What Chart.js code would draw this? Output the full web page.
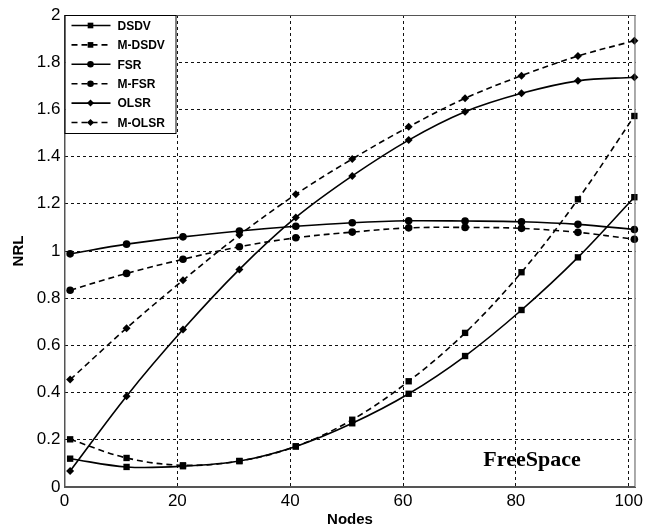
<!DOCTYPE html>
<html>
<head>
<meta charset="utf-8">
<script src="https://cdn.jsdelivr.net/npm/chart.js@4"></script>
<style>
  html, body { margin: 0; padding: 0; background: #fff; }
  #wrap { width: 647px; height: 529px; }
</style>
</head>
<body>
<div id="wrap"><canvas id="nrlChart" width="647" height="529"></canvas></div>
<script>
// values
const nodes = [1, 11, 21, 31, 41, 51, 61, 71, 81, 91, 101];
const dsdv  = [0.12, 0.085, 0.088, 0.11, 0.172, 0.27, 0.395, 0.555, 0.75, 0.973, 1.228];
const mDsdv = [0.202, 0.123, 0.092, 0.11, 0.172, 0.285, 0.448, 0.653, 0.91, 1.219, 1.572];
const fsr   = [0.988, 1.029, 1.06, 1.085, 1.105, 1.12, 1.128, 1.127, 1.124, 1.113, 1.091];
const mFsr  = [0.834, 0.905, 0.965, 1.018, 1.056, 1.08, 1.098, 1.1, 1.096, 1.079, 1.05];
const olsr  = [0.068, 0.385, 0.667, 0.922, 1.142, 1.318, 1.47, 1.59, 1.668, 1.721, 1.736];
const mOlsr = [0.455, 0.673, 0.876, 1.068, 1.24, 1.39, 1.526, 1.647, 1.743, 1.826, 1.891];
const xTicks = [0, 20, 40, 60, 80, 100];
const yTicks = [0, 0.2, 0.4, 0.6, 0.8, 1, 1.2, 1.4, 1.6, 1.8, 2];

const pts = arr => arr.map((v, i) => ({ x: nodes[i], y: v }));

function series(label, arr, marker, dashed, size) {
  return {
    label: label,
    data: pts(arr),
    borderColor: '#000',
    backgroundColor: '#000',
    borderWidth: 1.6,
    borderDash: dashed ? [6, 4] : [],
    pointStyle: marker,
    pointRadius: size,
    pointBorderWidth: 0,
    tension: 0.35,
    clip: false
  };
}

// legend box inside the plot + outer frame + FreeSpace label
const extras = {
  id: 'extras',
  afterDraw(chart) {
    const ctx = chart.ctx;
    const a = chart.chartArea;
    ctx.save();
    ctx.strokeStyle = '#555';
    ctx.lineWidth = 1;
    ctx.setLineDash([]);
    ctx.strokeRect(a.left + 0.5, a.top + 0.5, a.right - a.left - 1, a.bottom - a.top - 1);

    // legend
    const lx = a.left, ly = a.top, lw = 111, lh = 118;
    ctx.fillStyle = '#fff';
    ctx.fillRect(lx + 1, ly + 1, lw, lh);
    ctx.strokeStyle = '#000';
    ctx.strokeRect(lx + 0.5, ly + 0.5, lw, lh);
    ctx.font = 'bold 12px "Liberation Sans", Arial, sans-serif';
    ctx.textBaseline = 'middle';
    chart.data.datasets.forEach((ds, i) => {
      const y = ly + 10.5 + i * 19.4;
      ctx.strokeStyle = '#000';
      ctx.fillStyle = '#000';
      ctx.lineWidth = 1.6;
      ctx.setLineDash(ds.borderDash);
      ctx.beginPath();
      ctx.moveTo(lx + 7, y);
      ctx.lineTo(lx + 46, y);
      ctx.stroke();
      ctx.setLineDash([]);
      Chart.helpers.drawPoint(ctx, { pointStyle: ds.pointStyle, radius: ds.pointRadius - 0.5, borderWidth: 0 }, lx + 26, y);
      ctx.fillText(ds.label, lx + 53, y + 1);
    });

    ctx.font = 'bold 22px "Liberation Serif", "Times New Roman", serif';
    ctx.textAlign = 'center';
    ctx.textBaseline = 'middle';
    ctx.fillStyle = '#000';
    ctx.fillText('FreeSpace', 532, 460);
    ctx.restore();
  }
};

const gridOpts = { color: '#111', lineWidth: 1, tickLength: 0 };
const borderOpts = { display: true, color: '#555', dash: [3, 3] };

new Chart(document.getElementById('nrlChart'), {
  type: 'line',
  data: {
    datasets: [
      series('DSDV', dsdv, 'rect', false, 4.5),
      series('M-DSDV', mDsdv, 'rect', true, 4.5),
      series('FSR', fsr, 'circle', false, 3.8),
      series('M-FSR', mFsr, 'circle', true, 3.8),
      series('OLSR', olsr, 'rectRot', false, 4),
      series('M-OLSR', mOlsr, 'rectRot', true, 4)
    ]
  },
  options: {
    responsive: false,
    animation: false,
    layout: { padding: { top: 15, right: 9, left: 0, bottom: 0 } },
    plugins: { legend: { display: false }, tooltip: { enabled: false } },
    scales: {
      x: {
        type: 'linear',
        min: 0,
        max: 101.2,
        afterBuildTicks: s => { s.ticks = xTicks.map(v => ({ value: v })); },
        afterFit: s => { s.height = 42; },
        grid: gridOpts,
        border: borderOpts,
        ticks: {
          color: '#000',
          padding: 4,
          maxRotation: 0,
          font: { family: '"Liberation Sans", Arial, sans-serif', size: 17 }
        },
        title: {
          display: true,
          text: 'Nodes',
          color: '#000',
          padding: { top: -4, bottom: 0 },
          font: { family: '"Liberation Sans", Arial, sans-serif', size: 15, weight: 'bold' }
        }
      },
      y: {
        min: 0,
        max: 2,
        afterBuildTicks: s => { s.ticks = yTicks.map(v => ({ value: v })); },
        afterFit: s => { s.width = 64.5; },
        grid: gridOpts,
        border: borderOpts,
        ticks: {
          color: '#000',
          padding: 4,
          font: { family: '"Liberation Sans", Arial, sans-serif', size: 17 },
          callback: v => String(+v.toFixed(1))
        },
        title: {
          display: true,
          text: 'NRL',
          color: '#000',
          padding: { top: 10, bottom: 0 },
          font: { family: '"Liberation Sans", Arial, sans-serif', size: 15, weight: 'bold' }
        }
      }
    }
  },
  plugins: [extras]
});
</script>
</body>
</html>
